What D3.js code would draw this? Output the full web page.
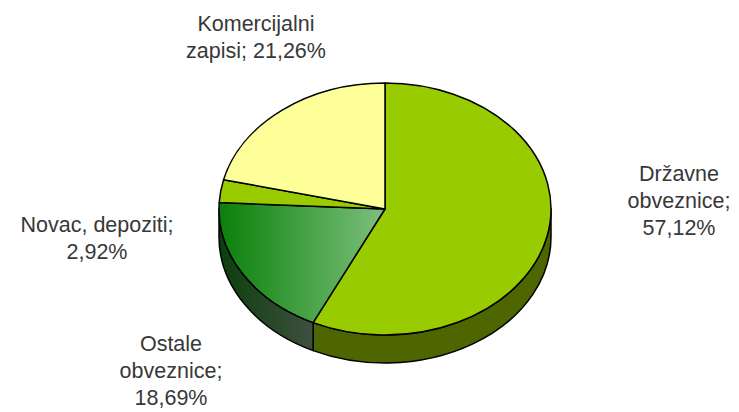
<!DOCTYPE html>
<html>
<head>
<meta charset="utf-8">
<script src="https://cdnjs.cloudflare.com/ajax/libs/d3/7.8.5/d3.min.js"></script>
<style>
  body { margin: 0; background: #fff; }
  svg { display: block; }
  text { font-family: "Liberation Sans", Arial, sans-serif; fill: #383838; }
</style>
</head>
<body>
<div id="chart"></div>
<script>
// data
var categories = ["Državne obveznice", "Ostale obveznice", "Novac, depoziti", "Komercijalni zapisi"];
var shares = [57.12, 18.69, 2.92, 21.26];
var labelLines = [
  ["Državne", "obveznice;", "57,12%"],
  ["Ostale", "obveznice;", "18,69%"],
  ["Novac, depoziti;", "2,92%"],
  ["Komercijalni", "zapisi; 21,26%"]
];

// chart size and pie geometry
var width = 739, height = 412;
var cx = 385, cy = 209, rx = 166, ry = 126, depth = 28;

// where each label block is centred (first baseline)
var labelPos = [
  {x: 679, y: 181},
  {x: 171, y: 351},
  {x: 97, y: 232},
  {x: 256, y: 31}
];
var lineH = 27;

var svg = d3.select("#chart")
  .append("svg")
    .attr("width", width)
    .attr("height", height);

var defs = svg.append("defs");

function grad(id, c0, c1) {
  var g = defs.append("linearGradient")
    .attr("id", id)
    .attr("x1", "0%").attr("y1", "0%")
    .attr("x2", "100%").attr("y2", "0%");
  g.append("stop").attr("offset", "0%").attr("stop-color", c0);
  g.append("stop").attr("offset", "100%").attr("stop-color", c1);
}
grad("ostaleTop", "#0a800a", "#7dc07d");
grad("ostaleSide", "#0c3f0c", "#3f4f3f");

var topFill = ["#99cc00", "url(#ostaleTop)", "#99cc00", "#ffff99"];
var sideFill = ["#4d6600", "url(#ostaleSide)", "#4d6600", "#80804d"];

var pie = d3.pie().sort(null).value(function(d) { return d; });
var arcs = pie(shares);

function pt(a, dy) {
  return [cx + rx * Math.sin(a), cy - ry * Math.cos(a) + (dy || 0)];
}

// side walls (only front half is visible)
arcs.forEach(function(d, i) {
  var s0 = Math.max(d.startAngle, Math.PI / 2);
  var s1 = Math.min(d.endAngle, 3 * Math.PI / 2);
  if (s1 <= s0) return;
  var p0 = pt(s0), p1 = pt(s1), q1 = pt(s1, depth), q0 = pt(s0, depth);
  var path = "M" + p0 + "A" + rx + "," + ry + " 0 0 1 " + p1 +
    "L" + q1 + "A" + rx + "," + ry + " 0 0 0 " + q0 + "Z";
  svg.append("path")
    .attr("d", path)
    .attr("fill", sideFill[i])
    .attr("stroke", "#000")
    .attr("stroke-width", 1.5)
    .attr("stroke-linejoin", "round");
});

// top faces
svg.selectAll(".slice")
  .data(arcs)
  .enter()
  .append("path")
    .attr("class", "slice")
    .attr("d", function(d) {
      var p0 = pt(d.startAngle), p1 = pt(d.endAngle);
      var large = (d.endAngle - d.startAngle) > Math.PI ? 1 : 0;
      return "M" + cx + "," + cy + "L" + p0 +
        "A" + rx + "," + ry + " 0 " + large + " 1 " + p1 + "Z";
    })
    .attr("fill", function(d, i) { return topFill[i]; })
    .attr("stroke", "#000")
    .attr("stroke-width", 1.5)
    .attr("stroke-linejoin", "round");

// labels
labelLines.forEach(function(lines, i) {
  var t = svg.append("text")
    .attr("text-anchor", "middle")
    .attr("font-size", "21.5px");
  lines.forEach(function(line, j) {
    t.append("tspan")
      .attr("x", labelPos[i].x)
      .attr("y", labelPos[i].y + j * lineH)
      .text(line);
  });
});
</script>
</body>
</html>
